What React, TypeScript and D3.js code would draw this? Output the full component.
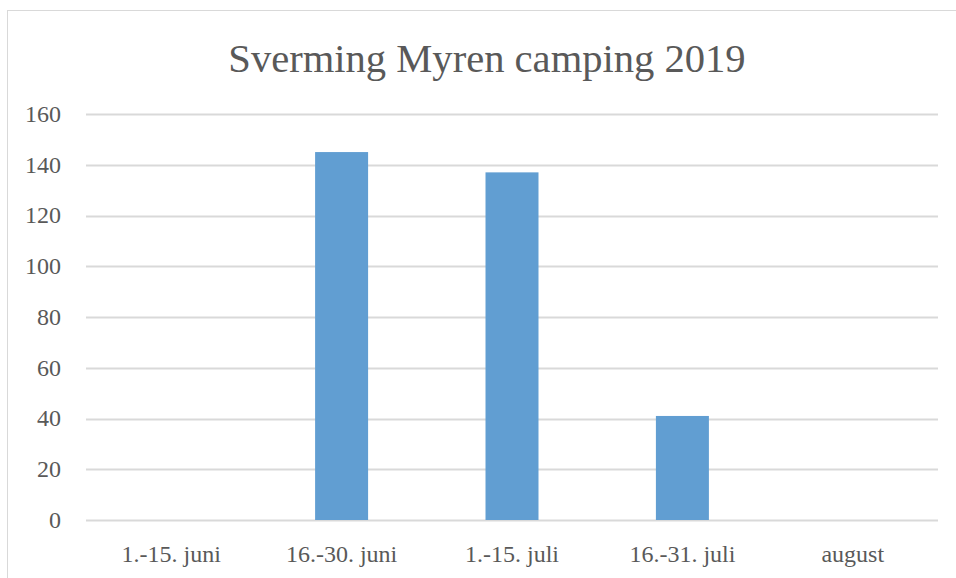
import React, { useRef, useEffect } from 'react';
import * as d3 from 'd3';

const categories: string[] = ['1.-15. juni', '16.-30. juni', '1.-15. juli', '16.-31. juli', 'august'];
const values: number[] = [0, 145, 137, 41, 0];
const yTicks: number[] = [0, 20, 40, 60, 80, 100, 120, 140, 160];
const title = 'Sverming Myren camping 2019';

const W = 956;
const H = 578;
const margin = { top: 114, right: 18, bottom: 58, left: 86 };
const FONT = '"Liberation Serif", "Times New Roman", serif';
const TEXT = '#595959';

const App = () => {
  const ref = useRef<SVGSVGElement | null>(null);

  useEffect(() => {
    if (!ref.current) return;
    const svg = d3.select(ref.current);
    svg.selectAll('*').remove();

    const x = d3
      .scaleBand<string>()
      .domain(categories)
      .range([margin.left, W - margin.right])
      .paddingInner(0.689)
      .paddingOuter(0.3445);

    const y = d3
      .scaleLinear()
      .domain([0, 160])
      .range([H - margin.bottom, margin.top]);

    // outer chart frame (only top/left visible in the crop)
    svg
      .append('rect')
      .attr('x', 7.5)
      .attr('y', 10.5)
      .attr('width', W + 20)
      .attr('height', H + 20)
      .attr('fill', '#fff')
      .attr('stroke', '#d9d9d9')
      .attr('stroke-width', 1);

    // gridlines
    svg
      .append('g')
      .selectAll('line')
      .data(yTicks)
      .enter()
      .append('line')
      .attr('x1', margin.left)
      .attr('x2', W - margin.right)
      .attr('y1', (d) => Math.round(y(d)) + 0.5)
      .attr('y2', (d) => Math.round(y(d)) + 0.5)
      .attr('stroke', '#d9d9d9')
      .attr('stroke-width', 2);

    // bars
    svg
      .append('g')
      .selectAll('rect')
      .data(values)
      .enter()
      .append('rect')
      .attr('x', (d, i) => x(categories[i]) ?? 0)
      .attr('width', x.bandwidth())
      .attr('y', (d) => y(d))
      .attr('height', (d) => y(0) - y(d))
      .attr('fill', '#619ed2');

    // y labels
    svg
      .append('g')
      .selectAll('text')
      .data(yTicks)
      .enter()
      .append('text')
      .attr('x', 61)
      .attr('y', (d) => y(d))
      .attr('dy', '0.33em')
      .attr('text-anchor', 'end')
      .attr('font-family', FONT)
      .attr('font-size', 24)
      .attr('fill', TEXT)
      .text((d) => String(d));

    // x labels
    svg
      .append('g')
      .selectAll('text')
      .data(categories)
      .enter()
      .append('text')
      .attr('x', (d) => (x(d) ?? 0) + x.bandwidth() / 2)
      .attr('y', 562)
      .attr('text-anchor', 'middle')
      .attr('font-family', FONT)
      .attr('font-size', 24)
      .attr('fill', TEXT)
      .text((d) => d);

    // title
    svg
      .append('text')
      .attr('x', 487)
      .attr('y', 72)
      .attr('text-anchor', 'middle')
      .attr('font-family', FONT)
      .attr('font-size', 40.6)
      .attr('fill', TEXT)
      .text(title);
  }, []);

  return (
    <svg
      ref={ref}
      width={W}
      height={H}
      style={{ position: 'absolute', left: 0, top: 0, background: '#fff' }}
    />
  );
};

export default App;
